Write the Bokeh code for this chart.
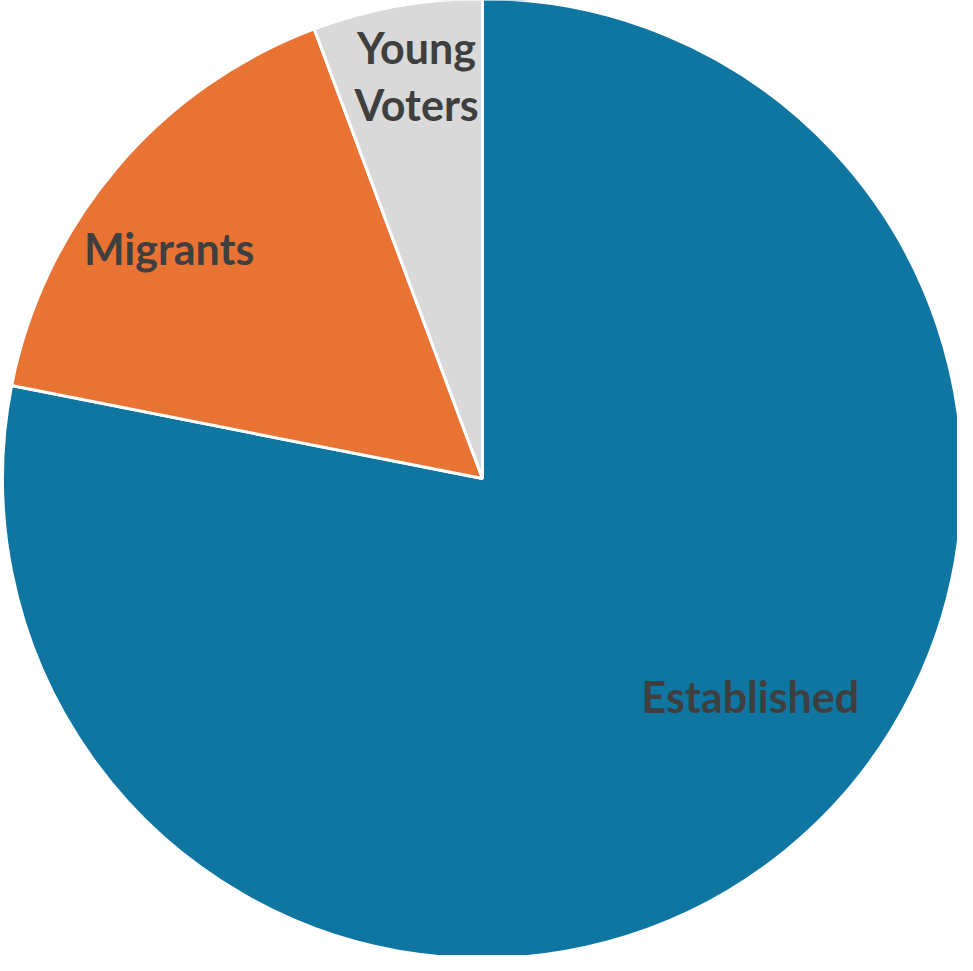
import math
from bokeh.plotting import figure
from bokeh.models import Range1d, ColumnDataSource
from bokeh.core.properties import value
from bokeh.embed import file_html
from bokeh.resources import INLINE

# Data
categories = ["Established", "Migrants", "Young Voters"]
shares = [78.1, 16.2, 5.7]
colors = ["#0E76A0", "#E97333", "#D9D9D9"]
labels = ["Established", "Migrants", "Young\nVoters"]

# Layout (label placement: angle in degrees, distance as fraction of radius)
label_angle = [-39.2, 143.7, 99.3]
label_dist = [0.72, 0.81, 0.85]

W, H = 957, 955
cx, cy, r = 482, 477, 480

total = sum(shares)
starts, ends = [], []
a = math.pi / 2
for s in shares:
    span = 2 * math.pi * s / total
    starts.append(a)
    ends.append(a - span)
    a -= span

src = ColumnDataSource(dict(cat=categories, start=starts, end=ends, color=colors))

p = figure(width=W, height=H, output_backend="svg", toolbar_location=None,
           x_range=Range1d(0, W), y_range=Range1d(0, H), min_border=0)
p.axis.visible = False
p.grid.visible = False
p.outline_line_color = None
p.background_fill_color = "white"

p.wedge(x=cx, y=cy, radius=r, start_angle="start", end_angle="end",
        direction="clock", fill_color="color", line_color="white",
        line_width=3, source=src)

lx = [cx + d * r * math.cos(math.radians(t)) for d, t in zip(label_dist, label_angle)]
ly = [cy + d * r * math.sin(math.radians(t)) for d, t in zip(label_dist, label_angle)]
lsrc = ColumnDataSource(dict(x=lx, y=ly, text=labels))
p.text(x="x", y="y", text="text", source=lsrc, text_align="center",
       text_baseline="middle", text_font=value("Lato"), text_font_style="bold",
       text_font_size="43px", text_color="#3F3F3F", text_line_height=1.12)

open("out.html", "w").write(file_html(p, INLINE))
